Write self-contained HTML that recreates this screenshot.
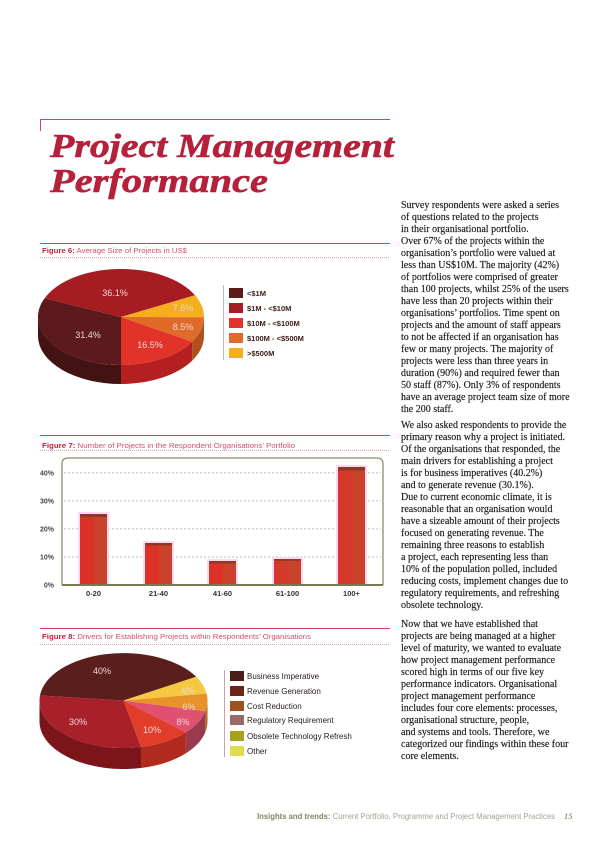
<!DOCTYPE html>
<html><head><meta charset="utf-8"><style>
html,body{margin:0;padding:0;background:#fff;}
svg{display:block;}
</style></head><body>
<svg width="600" height="848" viewBox="0 0 600 848" xmlns="http://www.w3.org/2000/svg">
<rect width="600" height="848" fill="#fff"/>
<!-- title rule -->
<line x1="40" y1="119.5" x2="390" y2="119.5" stroke="#c94a5c" stroke-width="1"/>
<line x1="40.5" y1="119" x2="40.5" y2="131" stroke="#c94a5c" stroke-width="1"/>
<text x="50" y="157" font-family="Liberation Serif, serif" font-weight="bold" font-style="italic" font-size="34" fill="#b5213b" stroke="#b5213b" stroke-width="0.6" textLength="344" lengthAdjust="spacingAndGlyphs">Project Management</text>
<text x="50" y="192" font-family="Liberation Serif, serif" font-weight="bold" font-style="italic" font-size="34" fill="#b5213b" stroke="#b5213b" stroke-width="0.6" textLength="218" lengthAdjust="spacingAndGlyphs">Performance</text>

<!-- Figure 6 header -->
<line x1="40" y1="243.5" x2="390" y2="243.5" stroke="#d63c55" stroke-width="1"/>
<text x="42" y="253" font-family="Liberation Sans, sans-serif" font-size="7.5" fill="#d4506a" textLength="145" lengthAdjust="spacingAndGlyphs"><tspan font-weight="bold" fill="#c8203c">Figure 6:</tspan> Average Size of Projects in US$</text>
<line x1="40" y1="257.5" x2="390" y2="257.5" stroke="#e3a0b0" stroke-width="1" stroke-dasharray="1 1"/>

<!-- Pie 1 sides -->
<path d="M204,317.3 A83,48 0 0 1 192.1,341.7 L192.1,360.7 A83,48 0 0 0 204,336.3 Z" fill="#b0501c"/>
<path d="M192.1,341.7 A83,48 0 0 1 121,365 L121,384 A83,48 0 0 0 192.1,360.7 Z" fill="#b51f1f"/>
<path d="M121,365 A83,48 0 0 1 38,317 L38,336 A83,48 0 0 0 121,384 Z" fill="#431314"/>
<!-- Pie 1 tops -->
<path d="M121,317 L121,365 A83,48 0 0 1 44.6,298.2 Z" fill="#5c1a1c"/>
<path d="M121,317 L44.6,298.2 A83,48 0 0 1 195,295.2 Z" fill="#a51c22"/>
<path d="M121,317 L195,295.2 A83,48 0 0 1 204,317.3 Z" fill="#f5ae1c"/>
<path d="M121,317 L204,317.3 A83,48 0 0 1 192.1,341.7 Z" fill="#e06a28"/>
<path d="M121,317 L192.1,341.7 A83,48 0 0 1 121,365 Z" fill="#e2332b"/>
<g font-family="Liberation Sans, sans-serif" font-size="9" fill="#f2d6d6" text-anchor="middle">
<text x="115" y="296">36.1%</text>
<text x="183" y="311">7.6%</text>
<text x="183" y="330">8.5%</text>
<text x="88" y="338">31.4%</text>
<text x="150" y="348">16.5%</text>
</g>
<!-- Legend 1 -->
<line x1="223.5" y1="285" x2="223.5" y2="360" stroke="#bbb" stroke-width="1"/>
<rect x="229" y="288" width="14" height="10" fill="#5c1a1c"/>
<rect x="229" y="303" width="14" height="10" fill="#a51c22"/>
<rect x="229" y="318" width="14" height="10" fill="#e2332b"/>
<rect x="229" y="333" width="14" height="10" fill="#e06a28"/>
<rect x="229" y="348" width="14" height="10" fill="#f5ae1c"/>
<g font-family="Liberation Sans, sans-serif" font-size="7.5" font-weight="bold" fill="#3a1a1a">
<text x="247" y="296">&lt;$1M</text>
<text x="247" y="311">$1M - &lt;$10M</text>
<text x="247" y="326">$10M - &lt;$100M</text>
<text x="247" y="341">$100M - &lt;$500M</text>
<text x="247" y="356">&gt;$500M</text>
</g>

<!-- Figure 7 header -->
<line x1="40" y1="435.5" x2="390" y2="435.5" stroke="#d63c55" stroke-width="1"/>
<text x="42" y="448" font-family="Liberation Sans, sans-serif" font-size="7.5" fill="#d4506a" textLength="253" lengthAdjust="spacingAndGlyphs"><tspan font-weight="bold" fill="#c8203c">Figure 7:</tspan> Number of Projects in the Respondent Organisations’ Portfolio</text>
<line x1="40" y1="450.5" x2="390" y2="450.5" stroke="#e3a0b0" stroke-width="1" stroke-dasharray="1 1"/>

<!-- Bar chart -->
<path d="M62,585 L62,464 Q62,458 68,458 L377,458 Q383,458 383,464 L383,585" fill="#fff" stroke="#8e8c6a" stroke-width="1.3"/>
<g stroke="#bdbdbd" stroke-width="1" stroke-dasharray="2 2">
<line x1="64" y1="472.7" x2="381" y2="472.7"/>
<line x1="64" y1="500.8" x2="381" y2="500.8"/>
<line x1="64" y1="528.9" x2="381" y2="528.9"/>
<line x1="64" y1="557" x2="381" y2="557"/>
</g>
<g font-family="Liberation Sans, sans-serif" font-size="7" font-weight="bold" fill="#444" text-anchor="end">
<text x="54" y="475.5">40%</text>
<text x="54" y="503.5">30%</text>
<text x="54" y="531.5">20%</text>
<text x="54" y="559.5">10%</text>
<text x="54" y="587.5">0%</text>
</g>
<!-- bars: glow -->
<g fill="#fcd8f4">
<rect x="78" y="512" width="31" height="73"/>
<rect x="143" y="541" width="31" height="44"/>
<rect x="207" y="559" width="31" height="26"/>
<rect x="272" y="557" width="31" height="28"/>
<rect x="336" y="465" width="31" height="120"/>
</g>
<g>
<rect x="80" y="514" width="14" height="71" fill="#dd3027"/><rect x="94" y="514" width="13" height="71" fill="#c9432b"/><rect x="80" y="514" width="27" height="3" fill="#8e3a22"/>
<rect x="145" y="543" width="14" height="42" fill="#dd3027"/><rect x="159" y="543" width="13" height="42" fill="#c9432b"/><rect x="145" y="543" width="27" height="2.5" fill="#8e3a22"/>
<rect x="209" y="561" width="14" height="24" fill="#dd3027"/><rect x="223" y="561" width="13" height="24" fill="#c9432b"/><rect x="209" y="561" width="27" height="2.5" fill="#8e3a22"/>
<rect x="274" y="559" width="14" height="26" fill="#d23a29"/><rect x="288" y="559" width="13" height="26" fill="#c9432b"/><rect x="274" y="559" width="27" height="2" fill="#9a3a22"/>
<rect x="338" y="467" width="14" height="118" fill="#d6382a"/><rect x="352" y="467" width="13" height="118" fill="#c9432b"/><rect x="338" y="467" width="27" height="3.5" fill="#8e3a22"/>
</g>
<line x1="62" y1="585" x2="383" y2="585" stroke="#7a7850" stroke-width="2"/>
<g font-family="Liberation Sans, sans-serif" font-size="7.5" font-weight="bold" fill="#333" text-anchor="middle">
<text x="93.5" y="596">0-20</text>
<text x="158.5" y="596">21-40</text>
<text x="222.5" y="596">41-60</text>
<text x="287.5" y="596">61-100</text>
<text x="351.5" y="596">100+</text>
</g>

<!-- Figure 8 header -->
<line x1="40" y1="628.5" x2="390" y2="628.5" stroke="#d63c55" stroke-width="1"/>
<text x="42" y="639" font-family="Liberation Sans, sans-serif" font-size="7.5" fill="#d4506a" textLength="269" lengthAdjust="spacingAndGlyphs"><tspan font-weight="bold" fill="#c8203c">Figure 8:</tspan> Drivers for Establishing Projects within Respondents’ Organisations</text>
<line x1="40" y1="644.5" x2="390" y2="644.5" stroke="#e3a0b0" stroke-width="1" stroke-dasharray="1 1"/>

<!-- Pie 2 sides -->
<path d="M207.5,700.5 A84,47.5 0 0 1 205.3,711.3 L205.3,732.3 A84,47.5 0 0 0 207.5,721.5 Z" fill="#b06a1e"/>
<path d="M205.3,711.3 A84,47.5 0 0 1 185.9,732.3 L185.9,753.3 A84,47.5 0 0 0 205.3,732.3 Z" fill="#9a3a4e"/>
<path d="M185.9,732.3 A84,47.5 0 0 1 141,747 L141,768 A84,47.5 0 0 0 185.9,753.3 Z" fill="#b02a1e"/>
<path d="M141,747 A84,47.5 0 0 1 39.5,700.5 L39.5,721.5 A84,47.5 0 0 0 141,768 Z" fill="#7c1519"/>
<!-- Pie 2 tops -->
<path d="M123.5,700.5 L141,747 A84,47.5 0 0 1 40,695.5 Z" fill="#a8202a"/>
<path d="M123.5,700.5 L40,695.5 A84,47.5 0 0 1 196.2,676.8 Z" fill="#5a1e1c"/>
<path d="M123.5,700.5 L196.2,676.8 A84,47.5 0 0 1 206.6,693.6 Z" fill="#f5c842"/>
<path d="M123.5,700.5 L206.6,693.6 A84,47.5 0 0 1 205.3,711.3 Z" fill="#e8922a"/>
<path d="M123.5,700.5 L205.3,711.3 A84,47.5 0 0 1 185.9,732.3 Z" fill="#e05070"/>
<path d="M123.5,700.5 L185.9,732.3 A84,47.5 0 0 1 141,747 Z" fill="#e23c2a"/>
<g font-family="Liberation Sans, sans-serif" font-size="9" fill="#f2d6d6" text-anchor="middle">
<text x="102" y="674">40%</text>
<text x="188" y="694">6%</text>
<text x="189" y="710">6%</text>
<text x="183" y="725">8%</text>
<text x="152" y="733">10%</text>
<text x="78" y="725">30%</text>
</g>
<!-- Legend 2 -->
<line x1="224.5" y1="670" x2="224.5" y2="757" stroke="#d0a0a8" stroke-width="1"/>
<rect x="230" y="671" width="14" height="10" fill="#4a1e16"/>
<rect x="230" y="686" width="14" height="10" fill="#6a2418"/>
<rect x="230" y="701" width="14" height="10" fill="#a0521e"/>
<rect x="230" y="715" width="14" height="10" fill="#9a6a6a"/>
<rect x="230" y="731" width="14" height="10" fill="#a8a020"/>
<rect x="230" y="746" width="14" height="10" fill="#e0dc50"/>
<g font-family="Liberation Sans, sans-serif" font-size="8" fill="#2a2020">
<text x="247" y="679">Business Imperative</text>
<text x="247" y="694">Revenue Generation</text>
<text x="247" y="709">Cost Reduction</text>
<text x="247" y="723">Regulatory Requirement</text>
<text x="247" y="739">Obsolete Technology Refresh</text>
<text x="247" y="754">Other</text>
</g>

<!-- Body text -->
<g font-family="Liberation Serif, serif" font-size="10" fill="#1a1a1a" stroke="#1a1a1a" stroke-width="0.15">
<text x="401" y="208">
<tspan x="401" dy="0">Survey respondents were asked a series</tspan>
<tspan x="401" dy="12">of questions related to the projects</tspan>
<tspan x="401" dy="12">in their organisational portfolio.</tspan>
<tspan x="401" dy="12">Over 67% of the projects within the</tspan>
<tspan x="401" dy="12">organisation’s portfolio were valued at</tspan>
<tspan x="401" dy="12">less than US$10M.  The majority (42%)</tspan>
<tspan x="401" dy="12">of portfolios were comprised of greater</tspan>
<tspan x="401" dy="12">than 100 projects, whilst 25% of the users</tspan>
<tspan x="401" dy="12">have less than 20 projects within their</tspan>
<tspan x="401" dy="12">organisations’ portfolios. Time spent on</tspan>
<tspan x="401" dy="12">projects and the amount of staff appears</tspan>
<tspan x="401" dy="12">to not be affected if an organisation has</tspan>
<tspan x="401" dy="12">few or many projects. The majority of</tspan>
<tspan x="401" dy="12">projects were less than three years in</tspan>
<tspan x="401" dy="12">duration (90%) and required fewer than</tspan>
<tspan x="401" dy="12">50 staff (87%).  Only 3% of respondents</tspan>
<tspan x="401" dy="12">have an average project team size of more</tspan>
<tspan x="401" dy="12">the 200 staff.</tspan>
</text>
<text x="401" y="428">
<tspan x="401" dy="0">We also asked respondents to provide the</tspan>
<tspan x="401" dy="12">primary reason why a project is initiated.</tspan>
<tspan x="401" dy="12">Of the organisations that responded, the</tspan>
<tspan x="401" dy="12">main drivers for establishing a project</tspan>
<tspan x="401" dy="12">is for business imperatives (40.2%)</tspan>
<tspan x="401" dy="12">and to generate revenue (30.1%).</tspan>
<tspan x="401" dy="12">Due to current economic climate, it is</tspan>
<tspan x="401" dy="12">reasonable that an organisation would</tspan>
<tspan x="401" dy="12">have a sizeable amount of their projects</tspan>
<tspan x="401" dy="12">focused on generating revenue.  The</tspan>
<tspan x="401" dy="12">remaining three reasons to establish</tspan>
<tspan x="401" dy="12">a project, each representing less than</tspan>
<tspan x="401" dy="12">10% of the population polled, included</tspan>
<tspan x="401" dy="12">reducing costs, implement changes due to</tspan>
<tspan x="401" dy="12">regulatory requirements, and refreshing</tspan>
<tspan x="401" dy="12">obsolete technology.</tspan>
</text>
<text x="401" y="627">
<tspan x="401" dy="0">Now that we have established that</tspan>
<tspan x="401" dy="12">projects are being managed at a higher</tspan>
<tspan x="401" dy="12">level of maturity, we wanted to evaluate</tspan>
<tspan x="401" dy="12">how project management performance</tspan>
<tspan x="401" dy="12">scored high in terms of our five key</tspan>
<tspan x="401" dy="12">performance indicators. Organisational</tspan>
<tspan x="401" dy="12">project management performance</tspan>
<tspan x="401" dy="12">includes four core elements: processes,</tspan>
<tspan x="401" dy="12">organisational structure, people,</tspan>
<tspan x="401" dy="12">and systems and tools. Therefore, we</tspan>
<tspan x="401" dy="12">categorized our findings within these four</tspan>
<tspan x="401" dy="12">core elements.</tspan>
</text>
</g>

<!-- Footer -->
<text x="257" y="819" font-family="Liberation Sans, sans-serif" font-size="7.8" fill="#a4a494" textLength="298" lengthAdjust="spacingAndGlyphs"><tspan font-weight="bold" fill="#858566">Insights and trends:</tspan> Current Portfolio, Programme and Project Management Practices</text>
<text x="564" y="819" font-family="Liberation Serif, serif" font-size="8.5" font-style="italic" font-weight="bold" fill="#9a9a80">15</text>
</svg>
</body></html>
